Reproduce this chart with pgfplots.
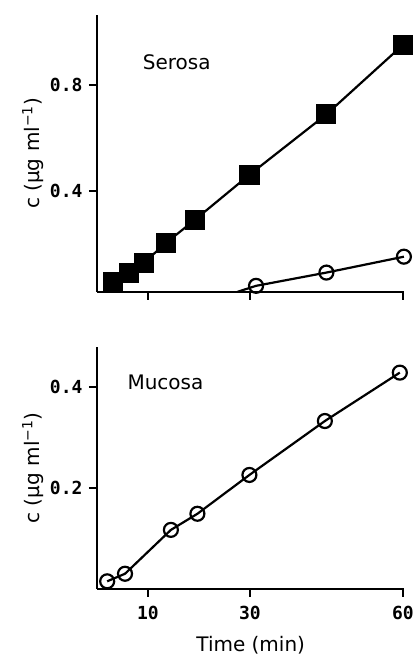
\documentclass[border=0pt]{standalone}
\usepackage{fontspec}
\setmainfont{DejaVu Sans}
\setmonofont{DejaVu Sans Mono}
\usepackage{pgfplots}
\pgfplotsset{compat=1.18}

\pgfplotsset{
  panel/.style={
    scale only axis,
    width=307.5pt,
    axis lines=left,
    axis line style={-, line width=2.2pt},
    tick align=outside,
    major tick length=8pt,
    tick style={line width=2pt, black},
    xmin=0, xmax=60.3,
    xtick={10,30,60},
    clip=false,
    /pgf/number format/assume math mode=true,
    tick label style={font=\ttfamily\bfseries\fontsize{18}{18}\selectfont},
    xticklabel style={yshift=-6pt},
    yticklabel style={xshift=-3pt, /pgf/number format/fixed, /pgf/number format/precision=1},
    label style={font=\fontsize{20}{20}\selectfont},
    ylabel style={at={(axis description cs:-0.208,0.5)}, anchor=center},
    every axis plot/.append style={line width=2.2pt, black},
  },
  open/.style={mark=o, mark size=7pt, mark options={fill=white, line width=2.2pt}},
}

\begin{document}
\begin{tikzpicture}
% Mucosa (bottom)
\begin{axis}[panel,
  at={(0pt,0pt)}, anchor=south west,
  height=242pt,
  ymin=0, ymax=0.48,
  ytick={0.2,0.4},
  xlabel={Time (min)},
  xlabel style={at={(axis description cs:0.5,-0.231)}, anchor=center},
  ylabel={c (μg ml\textsuperscript{−1})},
]
\addplot[open] coordinates {
  (2.0,0.015) (5.5,0.030) (14.5,0.117) (19.7,0.149) (29.9,0.226) (44.7,0.333) (59.4,0.429)
};
\node[anchor=west, font=\fontsize{20}{20}\selectfont] at (axis cs:5.3,0.41) {Mucosa};
\end{axis}
% Serosa (top)
\begin{axis}[panel,
  at={(0pt,297pt)}, anchor=south west,
  height=277pt,
  ymin=0.02, ymax=1.065,
  ytick={0.4,0.8},
  xticklabels={},
  ylabel={c (μg ml\textsuperscript{−1})},
]
\addplot[mark=square*, mark size=9pt] coordinates {
  (3.1,0.058) (6.3,0.092) (9.2,0.130) (13.6,0.206) (19.2,0.292) (29.9,0.462) (45.0,0.690) (60.0,0.952)
};
\addplot[open, mark indices={2,3,4}] coordinates {
  (27.5,0.02) (31.2,0.043) (45.0,0.093) (60.2,0.153)
};
\node[anchor=west, font=\fontsize{20}{20}\selectfont] at (axis cs:8.3,0.885) {Serosa};
\end{axis}
\useasboundingbox (-97pt,-68pt) rectangle (317pt,589pt);
\end{tikzpicture}
\end{document}
